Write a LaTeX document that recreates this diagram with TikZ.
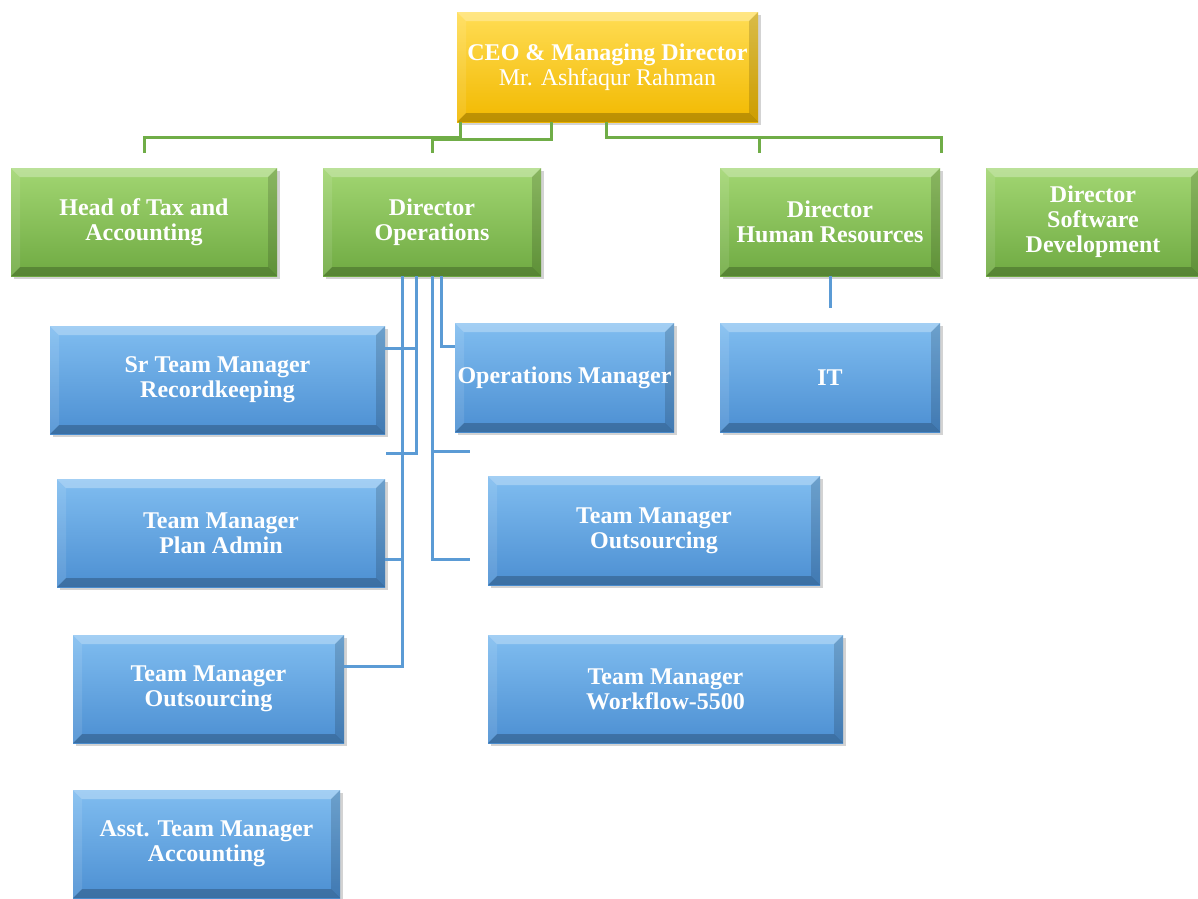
\documentclass[tikz,border=0pt]{standalone}
\usepackage{fontspec}
\setmainfont{Liberation Serif}
\usetikzlibrary{shadows,calc}
\definecolor{goldT}{HTML}{FFDD55}
\definecolor{goldB}{HTML}{F2B900}
\definecolor{greenT}{HTML}{A2D672}
\definecolor{greenB}{HTML}{6FAA42}
\definecolor{blueT}{HTML}{80BDF0}
\definecolor{blueB}{HTML}{4C8FD2}
\definecolor{gline}{HTML}{70AD47}
\definecolor{bline}{HTML}{5B9BD5}
\tikzset{
  orgbox/.style={draw=none, inner sep=2pt, align=center, text=white,
    font=\fontsize{24}{25}\selectfont\bfseries,
    drop shadow={opacity=0.35, shadow xshift=3pt, shadow yshift=-3pt},
    path picture={
      \fill[white,opacity=0.28] (path picture bounding box.north west) -- (path picture bounding box.north east)
        -- ([xshift=-9pt,yshift=-9pt]path picture bounding box.north east) -- ([xshift=9pt,yshift=-9pt]path picture bounding box.north west) -- cycle;
      \fill[black,opacity=0.22] (path picture bounding box.south west) -- (path picture bounding box.south east)
        -- ([xshift=-9pt,yshift=9pt]path picture bounding box.south east) -- ([xshift=9pt,yshift=9pt]path picture bounding box.south west) -- cycle;
      \fill[black,opacity=0.15] (path picture bounding box.north east) -- (path picture bounding box.south east)
        -- ([xshift=-9pt,yshift=9pt]path picture bounding box.south east) -- ([xshift=-9pt,yshift=-9pt]path picture bounding box.north east) -- cycle;
      \fill[white,opacity=0.10] (path picture bounding box.north west) -- (path picture bounding box.south west)
        -- ([xshift=9pt,yshift=9pt]path picture bounding box.south west) -- ([xshift=9pt,yshift=-9pt]path picture bounding box.north west) -- cycle;
    }},
  goldbox/.style={orgbox, top color=goldT, bottom color=goldB},
  greenbox/.style={orgbox, top color=greenT, bottom color=greenB},
  bluebox/.style={orgbox, top color=blueT, bottom color=blueB},
  gconn/.style={draw=gline, line width=3pt},
  bconn/.style={draw=bline, line width=3pt},
}
\begin{document}
\begin{tikzpicture}[x=1pt,y=-1pt]
\useasboundingbox (0,0) rectangle (1198,898);
% top
\node[goldbox, minimum width=301pt, minimum height=110pt] (ceo) at (607.5,67) {CEO \& Managing Director\\\mdseries Mr. Ashfaqur Rahman};
% directors
\node[greenbox, minimum width=266pt, minimum height=108pt] (tax) at (144,222) {Head of Tax and\\Accounting};
\node[greenbox, minimum width=218pt, minimum height=108pt] (ops) at (432,222) {Director\\Operations};
\node[greenbox, minimum width=220pt, minimum height=108pt] (hr) at (830,222) {Director\\Human Resources};
\node[greenbox, minimum width=214pt, minimum height=108pt] (sw) at (1093,222) {Director\\Software\\Development};
% blue boxes
\node[bluebox, minimum width=335pt, minimum height=108pt] (sr) at (217.5,380) {Sr Team Manager\\Recordkeeping};
\node[bluebox, minimum width=219pt, minimum height=109pt] (opm) at (564.5,377.5) {Operations Manager};
\node[bluebox, minimum width=220pt, minimum height=109pt] (it) at (830,377.5) {IT};
\node[bluebox, minimum width=328pt, minimum height=108pt] (pa) at (221,533) {Team Manager\\Plan Admin};
\node[bluebox, minimum width=332pt, minimum height=109pt] (tmor) at (654,530.5) {Team Manager\\Outsourcing};
\node[bluebox, minimum width=271pt, minimum height=108pt] (tmol) at (208.5,689) {Team Manager\\Outsourcing};
\node[bluebox, minimum width=355pt, minimum height=108pt] (wf) at (665.5,689) {Team Manager\\Workflow-5500};
\node[bluebox, minimum width=267pt, minimum height=108pt] (asst) at (206.5,844) {Asst. Team Manager\\Accounting};
% free ends
\coordinate (f1) at (386,453);
\coordinate (f2) at (470,451);
\coordinate (f3) at (470,559);
\coordinate (f4) at (830,308);
% green connectors
\draw[gconn] ([xshift=4pt]ceo.south west) -- ++(0,15) -| ([yshift=15pt]tax.north);
\draw[gconn] ([xshift=95pt]ceo.south west) -- ++(0,17) -| ([yshift=15pt]ops.north);
\draw[gconn] ([xshift=150pt]ceo.south west) -- ++(0,15) -| ([xshift=40pt,yshift=15pt]hr.north west);
\draw[gconn] ([xshift=40pt]hr.north west |- 0,137) -| ([xshift=1pt,yshift=15pt]hr.north east);
% blue connectors
\draw[bconn] ([xshift=119pt]ops.south west) |- ([yshift=31pt]opm.west);
\draw[bconn] ([xshift=94pt]ops.south west) |- ([yshift=32pt]sr.east);
\draw[bconn] ([xshift=94pt]ops.south west) |- (f1);
\draw[bconn] ([xshift=80pt]ops.south west) |- ([yshift=-26pt]pa.east);
\draw[bconn] ([xshift=80pt]ops.south west) |- ([yshift=23pt]tmol.east);
\draw[bconn] (ops.south) |- (f2);
\draw[bconn] (ops.south) |- (f3);
\draw[bconn] (hr.south) -- (f4);
\end{tikzpicture}
\end{document}
